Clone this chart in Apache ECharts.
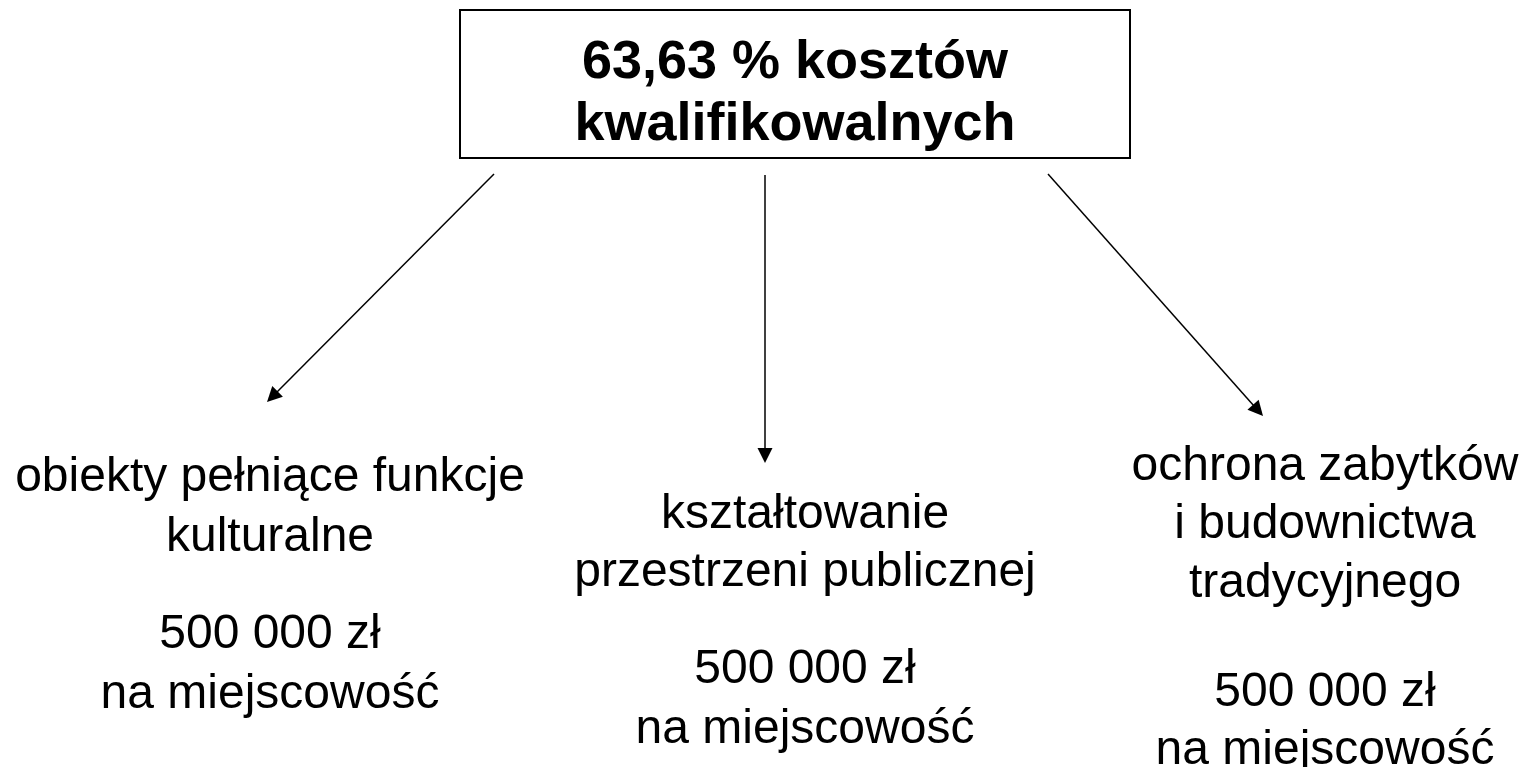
<!DOCTYPE html>
<html>
<head>
<meta charset="utf-8">
<script src="https://cdn.jsdelivr.net/npm/echarts@6/dist/echarts.min.js"></script>
<style>
html,body{margin:0;padding:0;background:#fff;}
#chart{width:1523px;height:767px;}
</style>
</head>
<body>
<div id="chart"></div>
<script>
// ---- content ----
var titleLines = ['63,63 % kosztów', 'kwalifikowalnych'];
var categories = [
  ['obiekty pełniące funkcje', 'kulturalne'],
  ['kształtowanie', 'przestrzeni publicznej'],
  ['ochrona zabytków', 'i budownictwa', 'tradycyjnego']
];
var amounts = ['500 000 zł', '500 000 zł', '500 000 zł'];
var amountUnit = 'na miejscowość';

// ---- layout (diagram coordinates, pixels) ----
var titleBox = [460, 10, 1130, 158];
var titleCenter = [795, 94];
var categoryCenters = [[270, 508], [805, 544], [1325, 525]];
var categoryLineHeights = [60, 58, 58.5];
var amountCenters = [[270, 665], [805, 700], [1325, 722]];
var amountLineHeights = [60, 60, 58];
var arrowStarts = [[494, 174], [765, 175], [1048, 174]];
var arrowTips = [[267, 402], [765, 463], [1263, 416]];

var FONT = '"Liberation Sans", Arial, sans-serif';
var HEAD = 15;

var textData = [];
categories.forEach(function (c, i) {
  textData.push({
    value: categoryCenters[i],
    label: { formatter: c.join('\n'), lineHeight: categoryLineHeights[i] }
  });
  textData.push({
    value: amountCenters[i],
    label: { formatter: [amounts[i], amountUnit].join('\n'), lineHeight: amountLineHeights[i] }
  });
});

var arrowData = arrowStarts.map(function (s, i) {
  var t = arrowTips[i];
  var dx = t[0] - s[0], dy = t[1] - s[1];
  var len = Math.sqrt(dx * dx + dy * dy);
  var k = (HEAD / 2) / len;
  return { coords: [s, [t[0] - dx * k, t[1] - dy * k]] };
});

var chart = echarts.init(document.getElementById('chart'), null, { renderer: 'canvas' });
chart.setOption({
  backgroundColor: '#fff',
  animation: false,
  grid: { left: 0, right: 0, top: 0, bottom: 0 },
  xAxis: { type: 'value', min: 0, max: 1523, show: false },
  yAxis: { type: 'value', min: 0, max: 767, inverse: true, show: false },
  series: [
    {
      type: 'lines',
      coordinateSystem: 'cartesian2d',
      silent: true,
      symbol: ['none', 'triangle'],
      symbolSize: HEAD,
      lineStyle: { color: '#000', width: 1.5, opacity: 1, curveness: 0 },
      itemStyle: { color: '#000' },
      data: arrowData,
      z: 1
    },
    {
      type: 'custom',
      silent: true,
      renderItem: function (params, api) {
        var p0 = api.coord([api.value(0), api.value(1)]);
        var p1 = api.coord([api.value(2), api.value(3)]);
        return {
          type: 'rect',
          shape: { x: p0[0], y: p0[1], width: p1[0] - p0[0], height: p1[1] - p0[1] },
          style: { fill: '#fff', stroke: '#000', lineWidth: 2 }
        };
      },
      data: [titleBox],
      z: 2
    },
    {
      type: 'scatter',
      silent: true,
      symbolSize: 0,
      itemStyle: { color: '#000', opacity: 1 },
      label: {
        show: true,
        position: 'inside',
        formatter: titleLines.join('\n'),
        color: '#000',
        fontFamily: FONT,
        fontWeight: 'bold',
        fontSize: 54,
        lineHeight: 62,
        align: 'center',
        textBorderWidth: 0
      },
      emphasis: { disabled: true },
      data: [titleCenter],
      z: 3
    },
    {
      type: 'scatter',
      silent: true,
      symbolSize: 0,
      itemStyle: { color: '#000', opacity: 1 },
      label: {
        show: true,
        position: 'inside',
        color: '#000',
        fontFamily: FONT,
        fontSize: 48,
        lineHeight: 58,
        align: 'center',
        textBorderWidth: 0
      },
      emphasis: { disabled: true },
      data: textData,
      z: 3
    }
  ]
});
</script>
</body>
</html>
